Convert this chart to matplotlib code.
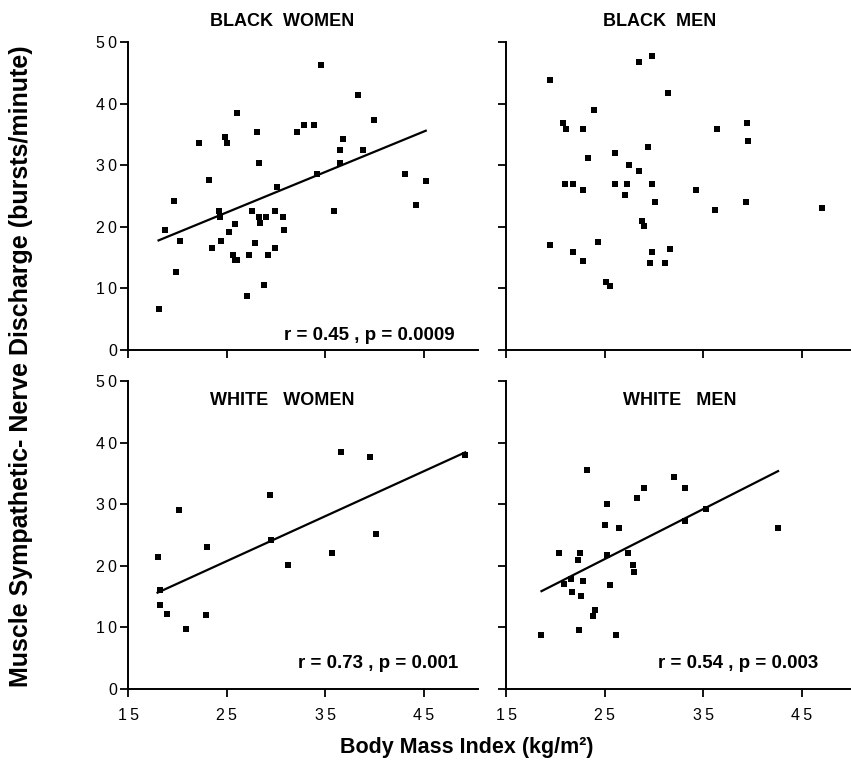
import numpy as np
import matplotlib
matplotlib.use('Agg')
import matplotlib.pyplot as plt
from matplotlib.ticker import FuncFormatter

plt.rcParams['font.family'] = ['Liberation Sans', 'DejaVu Sans']

# Black women
bw_x = [18.1, 18.8, 19.65, 19.9, 20.3, 22.2, 23.2, 23.5, 24.2, 24.35, 24.4, 24.8, 25.0,
        25.2, 25.7, 25.85, 26.05, 25.9, 26.05, 27.3, 27.1, 27.6, 27.9, 28.1, 28.25, 28.3,
        28.4, 28.8, 29.0, 29.15, 29.95, 29.95, 30.1, 30.7, 30.8, 32.15, 32.85, 33.85, 34.2,
        34.55, 35.9, 36.5, 36.5, 36.8, 38.3, 38.8, 40.0, 43.1, 44.2, 45.2]
bw_y = [6.6, 19.5, 24.2, 12.6, 17.7, 33.6, 27.6, 16.5, 22.6, 21.6, 17.7, 34.5, 33.6,
        19.2, 15.5, 14.6, 14.6, 20.5, 38.5, 15.5, 8.8, 22.6, 17.4, 35.4, 30.4, 21.6,
        20.6, 10.5, 21.6, 15.5, 16.5, 22.6, 26.5, 21.6, 19.4, 35.4, 36.5, 36.5, 28.6,
        46.3, 22.6, 32.5, 30.4, 34.3, 41.4, 32.5, 37.4, 28.5, 23.6, 27.5]

# Black men
bm_x = [19.5, 20.8, 21.1, 22.8, 23.9, 23.3, 21.0, 21.8, 22.8, 26.1, 27.45, 28.45, 26.1,
        27.25, 27.05, 28.45, 29.8, 29.4, 29.8, 30.1, 31.45, 28.8, 28.95, 19.5, 21.8, 24.3,
        22.8, 29.8, 31.65, 29.6, 31.15, 25.1, 25.6, 34.3, 36.4, 36.25, 39.3, 39.4, 39.6, 47.1]
bm_y = [43.9, 36.9, 35.8, 35.8, 39.0, 31.1, 26.9, 26.9, 25.9, 31.9, 30.1, 29.0, 26.9,
        26.9, 25.1, 46.8, 47.7, 32.9, 26.9, 24.0, 41.8, 20.9, 20.2, 17.0, 15.9, 17.5,
        14.4, 15.9, 16.4, 14.1, 14.1, 11.0, 10.4, 25.9, 35.8, 22.8, 24.0, 36.8, 33.9, 23.0]

# White women
ww_x = [18.0, 18.27, 18.2, 19.0, 20.2, 20.9, 22.9, 23.0, 29.4, 29.5, 31.2, 35.7, 36.6,
        39.5, 40.2, 49.2]
ww_y = [21.35, 16.1, 13.6, 12.2, 29.0, 9.7, 12.0, 23.1, 31.5, 24.2, 20.05, 22.0, 38.5,
        37.7, 25.1, 38.05]

# White men
wm_x = [18.6, 20.4, 20.9, 21.6, 21.7, 22.5, 22.3, 22.6, 22.8, 22.4, 23.2, 24.0, 23.8,
        25.0, 25.2, 25.2, 25.5, 26.2, 26.5, 27.4, 27.9, 28.0, 28.3, 29.0, 32.0, 33.2,
        33.2, 35.3, 42.6]
wm_y = [8.7, 22.1, 17.1, 17.9, 15.8, 22.1, 21.0, 15.1, 17.5, 9.6, 35.5, 12.9, 11.8,
        26.7, 30.1, 21.7, 16.9, 8.7, 26.1, 22.1, 20.2, 19.0, 31.0, 32.6, 34.4, 32.6,
        27.3, 29.2, 26.1]

# regression lines: (intercept, slope)
bw_fit = [5.9, 0.657]
ww_fit = [2.5, 0.73]
wm_fit = [0.78, 0.812]

titles = ['BLACK  WOMEN', 'BLACK  MEN', 'WHITE   WOMEN', 'WHITE   MEN']
stats = ['r = 0.45 , p = 0.0009', None, 'r = 0.73 , p = 0.001', 'r = 0.54 , p = 0.003']
xticks = [15, 25, 35, 45]
yticks = [0, 10, 20, 30, 40, 50]

# digits in the original are set a little apart
spaced = FuncFormatter(lambda v, pos: '\u2009'.join(str(int(v))))

fig = plt.figure(figsize=(8.51, 7.63), dpi=100)
W, H = 851, 763

def make_ax(left, top, width, xmax):
    ax = fig.add_axes([left / W, 1 - (top + 308) / H, width / W, 308 / H])
    ax.set_xlim(15, xmax)
    ax.set_ylim(0, 50)
    ax.spines['top'].set_visible(False)
    ax.spines['right'].set_visible(False)
    for s in ['left', 'bottom']:
        ax.spines[s].set_linewidth(1.4)
    ax.set_xticks(xticks)
    ax.set_yticks(yticks)
    ax.xaxis.set_major_formatter(spaced)
    ax.yaxis.set_major_formatter(spaced)
    ax.tick_params(direction='out', length=6, width=1.3, labelsize=11.5, pad=2)
    ax.tick_params(axis='x', pad=8)
    return ax

ax_bw = make_ax(128, 42, 350, 50.5)
ax_bm = make_ax(506, 42, 345, 50)
ax_ww = make_ax(128, 381, 350, 50.5)
ax_wm = make_ax(506, 381, 345, 50)

panels = [(ax_bw, bw_x, bw_y, bw_fit), (ax_bm, bm_x, bm_y, None),
          (ax_ww, ww_x, ww_y, ww_fit), (ax_wm, wm_x, wm_y, wm_fit)]

for ax, x, y, fit in panels:
    ax.plot(x, y, 's', color='black', markersize=4.8, markeredgewidth=0)
    if fit is not None:
        xl = np.array([min(x), max(x)])
        ax.plot(xl, fit[0] + fit[1] * xl, color='black', lw=1.6)

for ax in [ax_bw, ax_bm]:
    ax.tick_params(labelbottom=False)
for ax in [ax_bm, ax_wm]:
    ax.tick_params(labelleft=False)

ax_bw.text(0.44, 1.068, titles[0], transform=ax_bw.transAxes, ha='center', va='center',
           fontsize=13, fontweight='bold')
ax_bm.text(0.446, 1.068, titles[1], transform=ax_bm.transAxes, ha='center', va='center',
           fontsize=13, fontweight='bold')
ax_ww.text(0.44, 0.938, titles[2], transform=ax_ww.transAxes, ha='center', va='center',
           fontsize=13, fontweight='bold')
ax_wm.text(0.504, 0.938, titles[3], transform=ax_wm.transAxes, ha='center', va='center',
           fontsize=13, fontweight='bold')

ax_bw.text(0.934, 0.032, stats[0], transform=ax_bw.transAxes, ha='right', va='baseline',
           fontsize=13.5, fontweight='bold')
ax_ww.text(0.943, 0.068, stats[2], transform=ax_ww.transAxes, ha='right', va='baseline',
           fontsize=13.5, fontweight='bold')
ax_wm.text(0.904, 0.068, stats[3], transform=ax_wm.transAxes, ha='right', va='baseline',
           fontsize=13.5, fontweight='bold')

fig.text(0.025, 0.52, 'Muscle Sympathetic- Nerve Discharge (bursts/minute)', rotation=90,
         ha='center', va='center', fontsize=18, fontweight='bold')
fig.text(0.548, 0.02, 'Body Mass Index (kg/m²)', ha='center', va='center',
         fontsize=15.5, fontweight='bold')

fig.savefig('out.png', dpi=100)
